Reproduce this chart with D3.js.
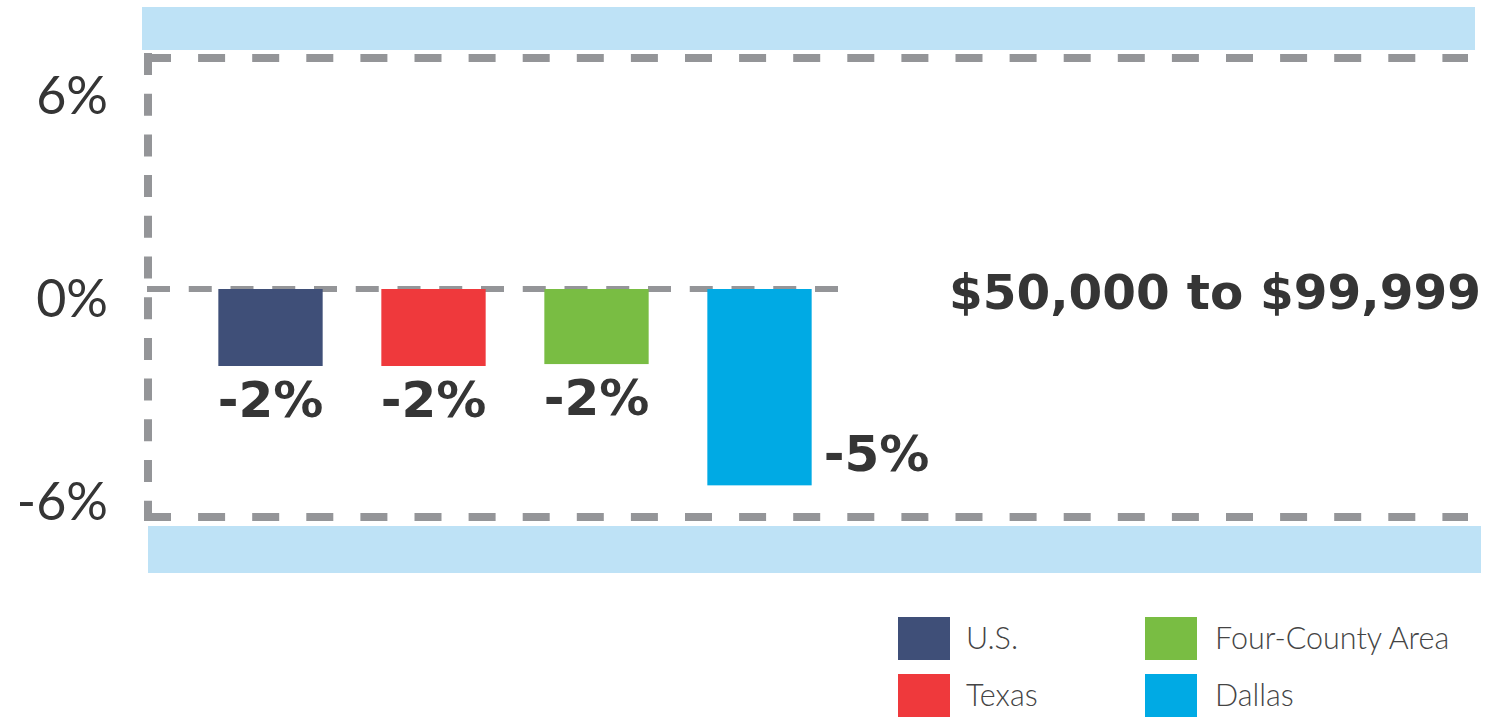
<!DOCTYPE html>
<html>
<head>
<meta charset="utf-8">
<script src="https://cdn.jsdelivr.net/npm/d3@7"></script>
<style>
  html, body { margin: 0; padding: 0; background: #fff; }
  svg { display: block; }
</style>
</head>
<body>
<div id="chart"></div>
<script>
// data
const categories = ['U.S.', 'Texas', 'Four-County Area', 'Dallas']
const values = [-2.0, -2.0, -1.95, -5.1]
const valueLabels = ['-2%', '-2%', '-2%', '-5%']
const labelSide = ['below', 'below', 'below', 'right']
const colors = ['#3f4f78', '#ef393c', '#79bd43', '#00aae4']
const yTicks = [6, 0, -6]
const bandTitle = '$50,000 to $99,999'

const W = 1488, H = 717
const dashGrey = '#949598'
const textDark = '#353535'

const svg = d3.select('#chart').append('svg')
  .attr('width', W)
  .attr('height', H)

const y = d3.scaleLinear().domain([-6, 6]).range([520, 58])
// tick labels sit a little off the guide lines in the original
const yLabel = d3.scaleLinear().domain([-6, 6]).range([520, 114])

const x = d3.scaleBand()
  .domain(categories)
  .range([189, 841])
  .paddingInner(0.36)
  .paddingOuter(0.18)

const color = d3.scaleOrdinal().domain(categories).range(colors)

// light blue bands above and below the frame
svg.append('rect')
  .attr('x', 142).attr('y', 7)
  .attr('width', 1333).attr('height', 43)
  .attr('fill', '#bee2f6')
svg.append('rect')
  .attr('x', 148).attr('y', 526)
  .attr('width', 1333).attr('height', 47)
  .attr('fill', '#bee2f6')

// dashed frame
const frame = svg.append('g')
  .attr('stroke', dashGrey)
  .attr('fill', 'none')

frame.append('line')
  .attr('x1', 144).attr('x2', 1468)
  .attr('y1', y(6)).attr('y2', y(6))
  .attr('stroke-width', 8)
  .attr('stroke-dasharray', '27 27.1')
frame.append('line')
  .attr('x1', 144).attr('x2', 1468)
  .attr('y1', y(-6) - 3).attr('y2', y(-6) - 3)
  .attr('stroke-width', 8)
  .attr('stroke-dasharray', '27 27.1')
frame.append('line')
  .attr('x1', 148).attr('x2', 148)
  .attr('y1', 53).attr('y2', 521)
  .attr('stroke-width', 8)
  .attr('stroke-dasharray', '22 18.7')

// bars
svg.append('g')
  .selectAll('rect')
  .data(categories)
  .join('rect')
  .attr('x', d => x(d))
  .attr('y', y(0))
  .attr('width', x.bandwidth())
  .attr('height', (d, i) => y(values[i]) - y(0))
  .attr('fill', d => color(d))

// zero line drawn over the bar tops
frame.append('line')
  .attr('x1', 147).attr('x2', 838)
  .attr('y1', y(0)).attr('y2', y(0))
  .attr('stroke-width', 6)
  .attr('stroke-dasharray', '23 18.75')

// value labels
svg.append('g')
  .selectAll('text')
  .data(categories)
  .join('text')
  .attr('x', (d, i) => labelSide[i] === 'right' ? x(d) + x.bandwidth() + 12 : x(d) + x.bandwidth() / 2)
  .attr('y', (d, i) => labelSide[i] === 'right' ? y(values[i]) - 14 : y(values[i]) + 51)
  .attr('text-anchor', (d, i) => labelSide[i] === 'right' ? 'start' : 'middle')
  .attr('font-family', '"DejaVu Sans", sans-serif')
  .attr('font-weight', 'bold')
  .attr('font-size', 50)
  .attr('fill', textDark)
  .text((d, i) => valueLabels[i])

// y tick labels
svg.append('g')
  .selectAll('text')
  .data(yTicks)
  .join('text')
  .attr('x', 108)
  .attr('y', d => yLabel(d))
  .attr('text-anchor', 'end')
  .attr('font-family', 'Lato, sans-serif')
  .attr('font-size', 52)
  .attr('fill', textDark)
  .text(d => d + '%')

// band title
svg.append('text')
  .attr('x', 1481)
  .attr('y', 309)
  .attr('text-anchor', 'end')
  .attr('font-family', '"DejaVu Sans", sans-serif')
  .attr('font-weight', 'bold')
  .attr('font-size', 48.5)
  .attr('fill', textDark)
  .text(bandTitle)

// legend, two columns of two rows
const legendCols = [898, 1145]
const legendRows = [617, 674]
const legend = svg.append('g')
  .selectAll('g')
  .data(categories)
  .join('g')
  .attr('transform', (d, i) => `translate(${legendCols[Math.floor(i / 2)]},${legendRows[i % 2]})`)

legend.append('rect')
  .attr('width', 52)
  .attr('height', 43)
  .attr('fill', d => color(d))

legend.append('text')
  .attr('x', (d, i) => i < 2 ? 68 : 70)
  .attr('y', 21)
  .attr('dy', '0.36em')
  .attr('font-family', 'Lato, sans-serif')
  .attr('font-weight', 300)
  .attr('font-size', 30.5)
  .attr('fill', '#444')
  .text(d => d)
</script>
</body>
</html>
